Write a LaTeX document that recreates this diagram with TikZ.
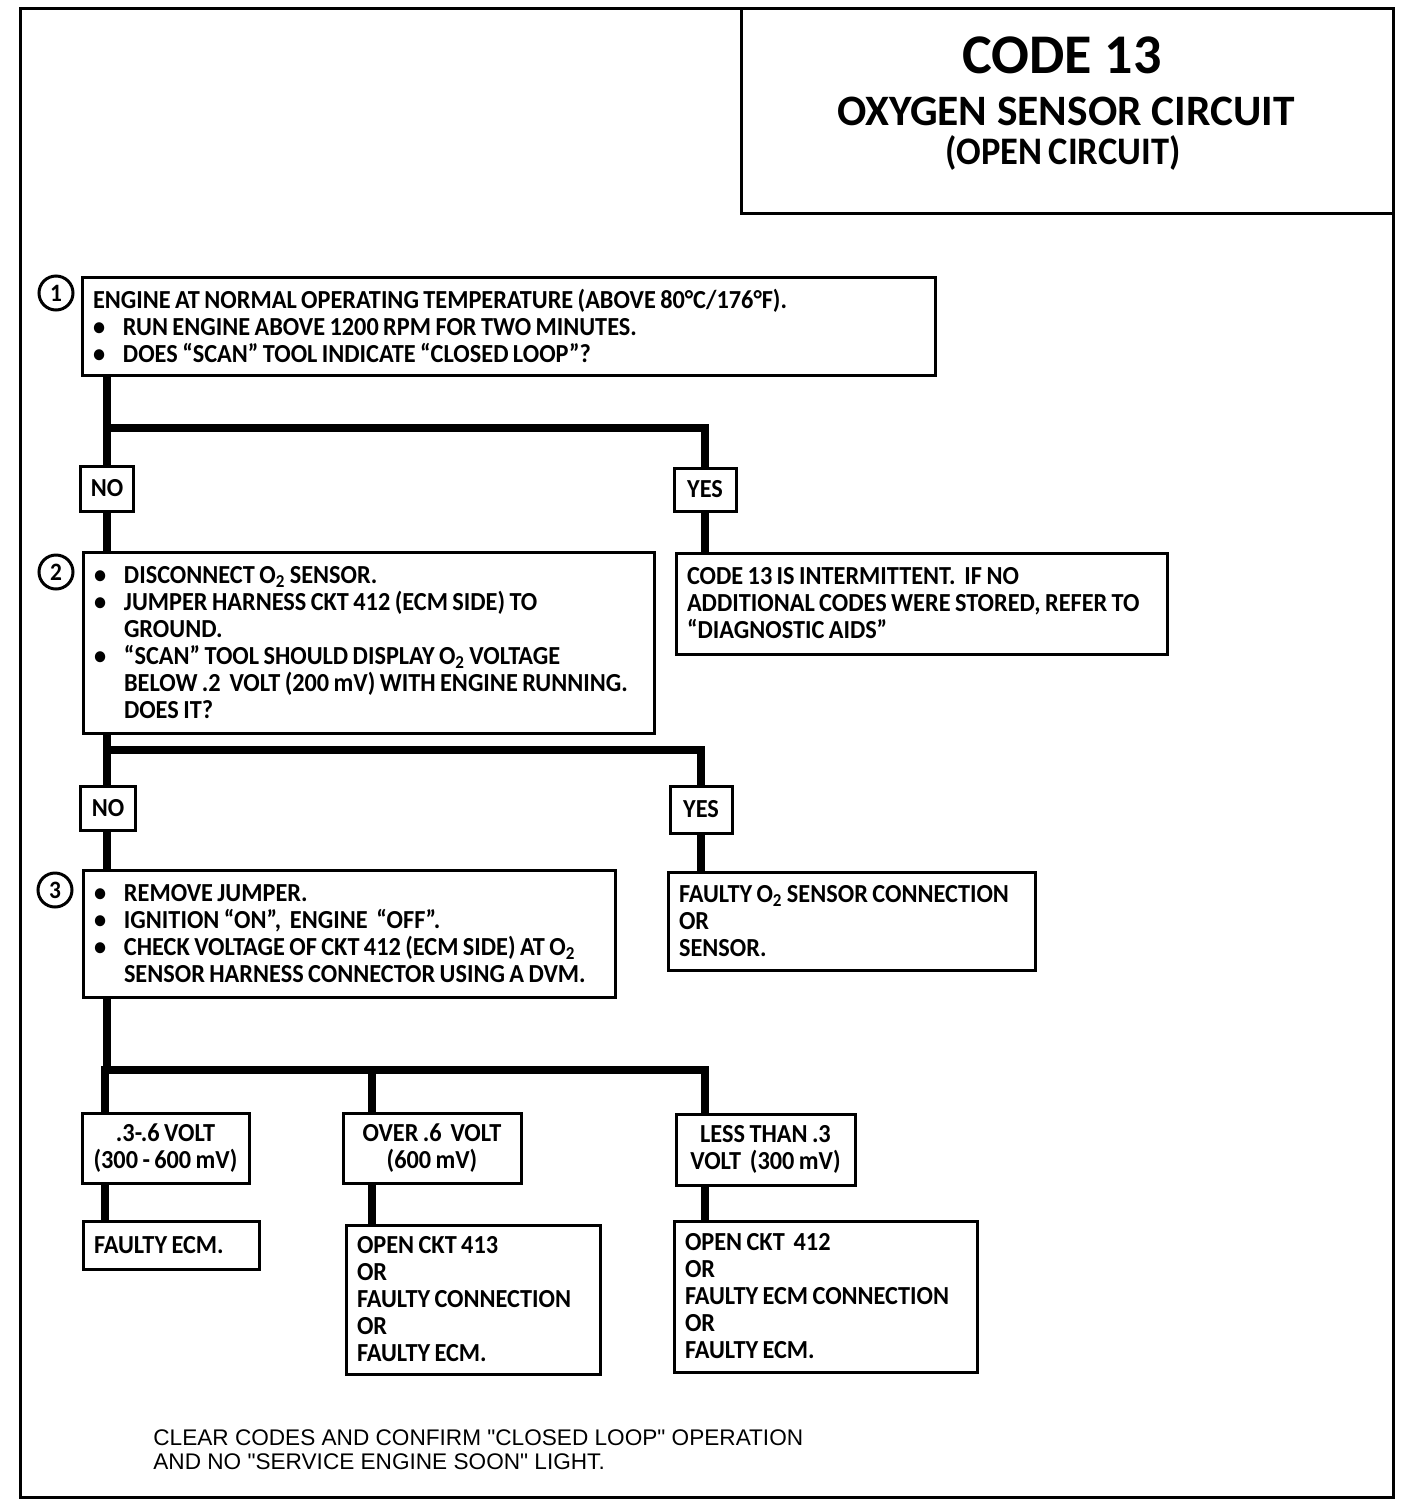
\documentclass[tikz,border=0pt]{standalone}
\usepackage{fontspec}
\setmainfont{Carlito}[FakeStretch=0.935, WordSpace=0.8]
\newfontfamily\titlefont{Carlito}
\newfontfamily\notefont{Liberation Sans}
\usepackage{tikz}
\usetikzlibrary{positioning, calc}
\definecolor{chartInk}{RGB}{0,0,0}
\newcommand{\stepbul}{\makebox[15pt][l]{\textbullet}}
\newcommand{\stepind}{\hspace*{15pt}}

\begin{document}
\begin{tikzpicture}[x=0.5pt, y=-0.5pt,
    stepbox/.style n args={3}{draw=chartInk, line width=1.5pt, rectangle, inner xsep=5.5pt, inner ysep=0pt,
        minimum width=#1, text width=#2, minimum height=#3, align=flush left,
        font=\bfseries\fontsize{13}{13.5}\selectfont},
    answer/.style n args={2}{draw=chartInk, line width=1.5pt, rectangle, inner sep=0pt,
        minimum width=#1, minimum height=#2, align=center,
        font=\bfseries\fontsize{13}{13.5}\selectfont},
    numcirc/.style={draw=chartInk, line width=1.5pt, circle, inner sep=0pt, minimum size=17pt,
        font=\bfseries\fontsize{12.5}{12.5}\selectfont},
    titletext/.style={inner sep=0pt, font=\titlefont\bfseries\fontsize{#1}{#1}\selectfont},
    trunk/.style={draw=chartInk, line width=4pt}]
    \useasboundingbox (0,0) rectangle (1408,1500);
    % frame and title block
    \draw[line width=1.5pt] (20,8) rectangle (1393,1497);
    \draw[line width=1.5pt] (741,8) -- (741,213) -- (1393,213);
    \node[titletext=28] (code) at (1062,55) {CODE 13};
    \node[titletext=21.7] (oxy) at (1066,111) {OXYGEN SENSOR CIRCUIT};
    \node[inner sep=0pt, font=\bfseries\fontsize{19.5}{19.5}\selectfont] (open) at (1063,153) {(OPEN CIRCUIT)};
    % step 1
    \node[numcirc] (n1) at (56,293) {1};
    \node[stepbox={426.5pt}{415.5pt}{49pt}] (b1) at (508.5,326) {ENGINE AT NORMAL OPERATING TEMPERATURE (ABOVE 80°C/176°F).\\
        \stepbul RUN ENGINE ABOVE 1200 RPM FOR TWO MINUTES.\\
        \stepbul DOES ``SCAN'' TOOL INDICATE ``CLOSED LOOP''?};
    \coordinate (j1) at (107,428);
    \node[answer={26.5pt}{22.5pt}] (no1) at (107,488.5) {NO};
    \node[answer={31pt}{21.5pt}] (yes1) at (705,489.5) {YES};
    \node[stepbox={245.5pt}{234.5pt}{50.5pt}] (r1) at (921.5,603.5) {CODE 13 IS INTERMITTENT.\ \ IF NO\\
        ADDITIONAL CODES WERE STORED, REFER TO\\
        ``DIAGNOSTIC AIDS''};
    % step 2
    \node[numcirc] (n2) at (56,572) {2};
    \node[stepbox={285.5pt}{274.5pt}{90.5pt}] (b2) at (368.5,642.5) {\stepbul DISCONNECT O\textsubscript{2} SENSOR.\\
        \stepbul JUMPER HARNESS CKT 412 (ECM SIDE) TO\\
        \stepind GROUND.\\
        \stepbul ``SCAN'' TOOL SHOULD DISPLAY O\textsubscript{2} VOLTAGE\\
        \stepind BELOW .2\ \ VOLT (200 mV) WITH ENGINE RUNNING.\\
        \stepind DOES IT?};
    \coordinate (j2) at (107,750);
    \node[answer={27.5pt}{22pt}] (no2) at (108,808) {NO};
    \node[answer={31pt}{23.5pt}] (yes2) at (701,809.5) {YES};
    \node[stepbox={183.5pt}{172.5pt}{49pt}] (r2) at (851.5,921) {FAULTY O\textsubscript{2} SENSOR CONNECTION\\
        OR\\
        SENSOR.};
    % step 3
    \node[numcirc] (n3) at (55,890) {3};
    \node[stepbox={266pt}{255pt}{63.5pt}] (b3) at (349,933.5) {\stepbul REMOVE JUMPER.\\
        \stepbul IGNITION ``ON'',\ \ ENGINE\ \ ``OFF''.\\
        \stepbul CHECK VOLTAGE OF CKT 412 (ECM SIDE) AT O\textsubscript{2}\\
        \stepind SENSOR HARNESS CONNECTOR USING A DVM.};
    \coordinate (j3) at (107,1070);
    \coordinate (ka) at (105,1070);
    \coordinate (kb) at (372,1070);
    \coordinate (kc) at (705,1070);
    \node[answer={83.5pt}{35pt}] (va) at (165.5,1148) {.3-.6 VOLT\\(300 - 600 mV)};
    \node[answer={89pt}{35pt}] (vb) at (432,1148) {OVER\ .6\ \ VOLT\\(600 mV)};
    \node[answer={89.5pt}{35.5pt}] (vc) at (765.5,1149.5) {LESS THAN .3\\VOLT\ \ (300 mV)};
    \node[stepbox={88pt}{77pt}{24pt}] (ra) at (171,1245) {FAULTY ECM.};
    \node[stepbox={127pt}{116pt}{74.5pt}] (rb) at (473,1299.5) {OPEN CKT 413\\
        OR\\
        FAULTY CONNECTION\\
        OR\\
        FAULTY ECM.};
    \node[stepbox={151.5pt}{140.5pt}{75.5pt}] (rc) at (825.5,1296.5) {OPEN CKT\ \ 412\\
        OR\\
        FAULTY ECM CONNECTION\\
        OR\\
        FAULTY ECM.};
    % connectors
    \draw[trunk] (b1.south -| j1) -- (j1) -| (yes1.north);
    \draw[trunk] (j1) -- (no1.north);
    \draw[trunk] (no1.south) -- (no1.south |- b2.north);
    \draw[trunk] (yes1.south) -- (yes1.south |- r1.north);
    \draw[trunk] (b2.south -| j2) -- (j2) -| (yes2.north);
    \draw[trunk] (j2) -- (j2 |- no2.north);
    \draw[trunk] (no2.south -| j2) -- (j2 |- b3.north);
    \draw[trunk] (yes2.south) -- (yes2.south |- r2.north);
    \draw[trunk] (b3.south -| j3) -- (j3) -- (kc);
    \foreach \k/\v/\r in {ka/va/ra, kb/vb/rb, kc/vc/rc} {
        \draw[trunk] ([yshift=2pt]\k) -- (\k |- \v.north);
        \draw[trunk] (\k |- \v.south) -- (\k |- \r.north);
    }
    % closing note
    \node[anchor=west, align=left, inner sep=0pt, font=\notefont\fontsize{11.3}{12}\selectfont] (note) at (153,1450)
        {CLEAR CODES AND CONFIRM "CLOSED LOOP" OPERATION\\AND NO "SERVICE ENGINE SOON" LIGHT.};
\end{tikzpicture}
\end{document}
